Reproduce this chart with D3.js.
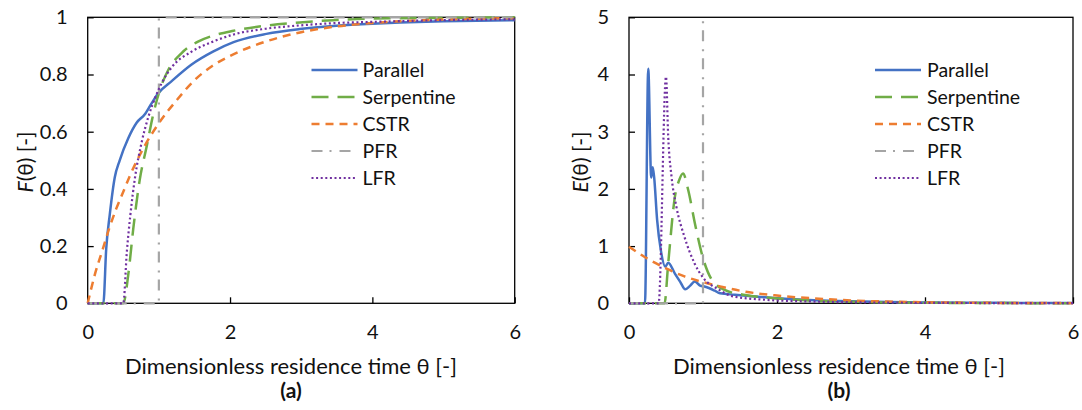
<!DOCTYPE html>
<html lang="en">
<head>
    <meta charset="utf-8">
    <title>Residence time distributions</title>
    <script type="text/javascript" src="https://d3js.org/d3.v7.min.js"></script>
    <style type="text/css">
        body { margin: 0; background: #fff; }
        text { font-family: Lato, "Open Sans", sans-serif; fill: #111; }
    </style>
</head>
<body>
    <script type="text/javascript">

        const width = 1082;
        const height = 410;

        // series names and styles order
        const seriesNames = ["Parallel", "Serpentine", "CSTR", "PFR", "LFR"];

        // x ticks (both panels)
        const thetaTicks = [0, 2, 4, 6];
        const fTicks = [0, 0.2, 0.4, 0.6, 0.8, 1];
        const eTicks = [0, 1, 2, 3, 4, 5];

        // (a) cumulative F(theta)
        const fParallel = [[0,0],[0.22,0],[0.26,0.19],[0.31,0.31],[0.38,0.44],[0.45,0.5],[0.57,0.577],[0.69,0.632],[0.8,0.66],[0.9,0.7],[0.99,0.734],[1.18,0.777],[1.46,0.835],[1.76,0.88],[2.05,0.913],[2.51,0.942],[2.98,0.959],[3.45,0.97],[3.92,0.977],[4.39,0.982],[5,0.986],[6,0.99]];
        const fSerpentine = [[0,0],[0.5,0],[0.57,0.1],[0.64,0.26],[0.73,0.43],[0.83,0.55],[0.92,0.66],[1.02,0.75],[1.13,0.815],[1.32,0.875],[1.55,0.915],[1.75,0.935],[2.05,0.953],[2.51,0.971],[2.98,0.982],[3.45,0.99],[3.92,0.995],[5,0.998],[6,1]];
        const fCSTR = [[0,0],[0.1,0.1],[0.2,0.18],[0.3,0.26],[0.4,0.33],[0.5,0.39],[0.6,0.45],[0.8,0.55],[1,0.63],[1.25,0.71],[1.5,0.78],[1.75,0.83],[2,0.865],[2.5,0.915],[3,0.948],[3.5,0.968],[4,0.98],[5,0.992],[6,0.997]];
        const fPFR = [[0,0],[1,0],[1,1],[6,1]];
        const fLFR = [[0,0],[0.5,0],[0.55,0.18],[0.6,0.31],[0.665,0.44],[0.76,0.565],[0.85,0.65],[0.95,0.72],[1.04,0.77],[1.18,0.825],[1.46,0.88],[1.76,0.915],[2.05,0.94],[2.5,0.96],[3,0.972],[3.5,0.98],[4,0.984],[5,0.99],[6,0.993]];

        // (b) density E(theta)
        const eParallel = [[0,0],[0.216,0],[0.26,4.1],[0.3,2.2],[0.32,2.38],[0.34,2.2],[0.38,1.46],[0.43,0.93],[0.49,0.64],[0.53,0.71],[0.62,0.52],[0.69,0.38],[0.76,0.245],[0.82,0.3],[0.89,0.38],[0.96,0.31],[1.03,0.29],[1.16,0.22],[1.23,0.175],[1.43,0.15],[1.7,0.12],[2,0.09],[2.5,0.055],[3,0.035],[3.5,0.022],[4,0.015],[5,0.008],[6,0.005]];
        const eSerpentine = [[0,0],[0.48,0],[0.53,0.7],[0.62,1.86],[0.68,2.16],[0.73,2.27],[0.8,1.98],[0.89,1.4],[1,0.79],[1.12,0.41],[1.3,0.23],[1.57,0.145],[2,0.085],[2.5,0.045],[3,0.025],[4,0.01],[5,0.004],[6,0.002]];
        const eCSTR = [[0,0.99],[0.25,0.78],[0.5,0.61],[0.75,0.47],[1,0.37],[1.25,0.29],[1.5,0.22],[1.75,0.17],[2,0.135],[2.5,0.085],[3,0.05],[3.5,0.03],[4,0.018],[5,0.007],[6,0.003]];
        const ePFR = [[0,0],[1,0],[1,5]];
        const eLFR = [[0,0],[0.4,0],[0.5,3.96],[0.53,2.91],[0.575,2.21],[0.64,1.69],[0.75,1.16],[0.885,0.7],[1,0.45],[1.2,0.25],[1.41,0.12],[1.86,0.06],[2.5,0.03],[3,0.018],[4,0.008],[5,0.004],[6,0.002]];

        const styles = {
            Parallel:   { color: "#4472C4", dash: null,         width: 2.5 },
            Serpentine: { color: "#70AD47", dash: "17,9",       width: 2.5 },
            CSTR:       { color: "#ED7D31", dash: "8,6",        width: 2.5 },
            PFR:        { color: "#A5A5A5", dash: "11,7,2,8",   width: 2.2 },
            LFR:        { color: "#7030A0", dash: "2,2.6",      width: 2.2 }
        };

        const svg = d3.select("body")
                    .append("svg")
                    .attr("width", width)
                    .attr("height", height);

        function drawPanel(p) {
            const x = d3.scaleLinear().domain([0, 6]).range([p.left, p.right]);
            const y = d3.scaleLinear().domain([0, p.yMax]).range([303.3, 17.3]);

            const g = svg.append("g");

            // axes
            g.append("g")
                .attr("transform", `translate(0,303.3)`)
                .call(d3.axisBottom(x).tickValues(thetaTicks).tickSize(-6).tickPadding(22).tickFormat(d => String(d)))
                .call(a => a.select(".domain").remove())
                .call(a => a.selectAll("text").style("font-size", "20px").style("font-family", "Lato"));

            g.append("g")
                .attr("transform", `translate(${p.left},0)`)
                .call(d3.axisLeft(y).tickValues(p.ticks).tickSize(-6).tickPadding(20).tickFormat(d => String(d)))
                .call(a => a.select(".domain").remove())
                .call(a => a.selectAll("text").style("font-size", "20px").style("font-family", "Lato"));

            g.selectAll(".tick line").attr("stroke", "#000").attr("stroke-width", 1.3);

            g.append("rect")
                .attr("x", p.left).attr("y", 17.3)
                .attr("width", p.right - p.left).attr("height", 286)
                .attr("fill", "none").attr("stroke", "#000").attr("stroke-width", 1.3);

            // clip
            const clipId = "clip-" + p.id;
            svg.append("clipPath").attr("id", clipId)
                .append("rect")
                .attr("x", p.left - 2).attr("y", 15)
                .attr("width", p.right - p.left + 4).attr("height", 290);

            const lines = g.append("g").attr("clip-path", `url(#${clipId})`);
            seriesNames.forEach((name, i) => {
                const st = styles[name];
                const line = d3.line()
                    .x(d => x(d[0]))
                    .y(d => y(d[1]))
                    .curve(name === "PFR" ? d3.curveLinear : d3.curveMonotoneX);
                lines.append("path")
                    .datum(p.data[i])
                    .attr("d", line)
                    .attr("fill", "none")
                    .attr("stroke", st.color)
                    .attr("stroke-width", st.width)
                    .attr("stroke-dasharray", st.dash)
                    .attr("stroke-linejoin", "round");
            });

            // legend
            const lg = g.append("g");
            seriesNames.forEach((name, i) => {
                const st = styles[name];
                const ly = 70 + i * 27;
                lg.append("line")
                    .attr("x1", p.legX).attr("x2", p.legX + 46)
                    .attr("y1", ly).attr("y2", ly)
                    .attr("stroke", st.color)
                    .attr("stroke-width", st.width)
                    .attr("stroke-dasharray", st.dash);
                lg.append("text")
                    .attr("x", p.legText).attr("y", ly)
                    .attr("dy", "0.35em")
                    .style("font-size", "19.5px")
                    .text(name);
            });

            // titles
            g.append("text")
                .attr("x", p.titleX).attr("y", 366)
                .attr("text-anchor", "middle")
                .attr("dy", "0.35em")
                .style("font-size", "22px")
                .text("Dimensionless residence time θ [-]");

            g.append("text")
                .attr("x", p.titleX).attr("y", 391)
                .attr("text-anchor", "middle")
                .attr("dy", "0.35em")
                .style("font-size", "21px")
                .style("font-weight", "bold")
                .text(p.tag);

            const yt = g.append("text")
                .attr("transform", `translate(${p.yTitleX},162) rotate(-90)`)
                .attr("text-anchor", "middle")
                .attr("dy", "0.35em")
                .style("font-size", "21px");
            yt.append("tspan").style("font-style", "italic").text(p.yVar);
            yt.append("tspan").text("(θ) [-]");
        }

        drawPanel({
            id: "a", left: 87.7, right: 514.7, yMax: 1, ticks: fTicks,
            data: [fParallel, fSerpentine, fCSTR, fPFR, fLFR],
            legX: 311.5, legText: 362.5, titleX: 291, tag: "(a)",
            yTitleX: 26, yVar: "F"
        });

        drawPanel({
            id: "b", left: 629, right: 1073, yMax: 5, ticks: eTicks,
            data: [eParallel, eSerpentine, eCSTR, ePFR, eLFR],
            legX: 875, legText: 927, titleX: 839, tag: "(b)",
            yTitleX: 581, yVar: "E"
        });

    </script>
</body>
</html>
